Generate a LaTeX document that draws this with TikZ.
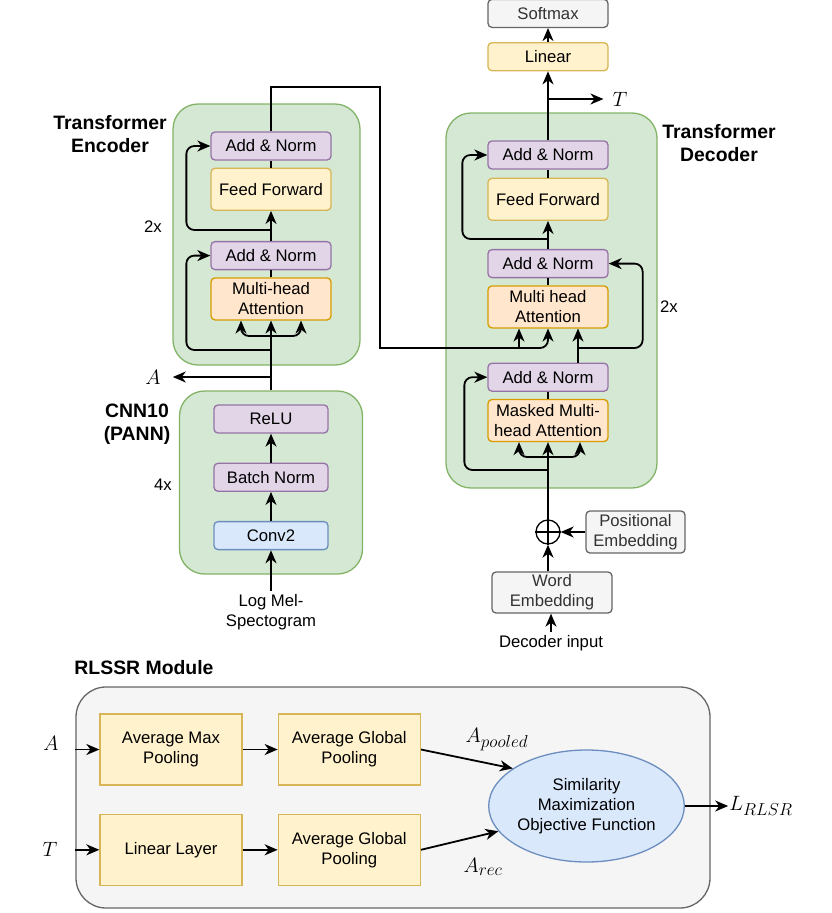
\documentclass[tikz,border=0pt]{standalone}
\usepackage{fontspec}
\setmainfont{Liberation Sans}
\DeclareMathSizes{20}{20}{17}{14}
\usetikzlibrary{positioning,calc,arrows.meta,shapes}

\definecolor{normfill}{HTML}{E1D5E7}
\definecolor{normline}{HTML}{9673A6}
\definecolor{fffill}{HTML}{FFF2CC}
\definecolor{ffline}{HTML}{D6B656}
\definecolor{attfill}{HTML}{FFE6CC}
\definecolor{attline}{HTML}{D79B00}
\definecolor{greenfill}{HTML}{D5E8D4}
\definecolor{greenline}{HTML}{82B366}
\definecolor{convfill}{HTML}{DAE8FC}
\definecolor{convline}{HTML}{6C8EBF}
\definecolor{grayfill}{HTML}{F5F5F5}
\definecolor{grayline}{HTML}{666666}
\definecolor{graytext}{HTML}{333333}

\begin{document}
\begin{tikzpicture}[x=1pt, y=-1pt]
    \tikzstyle{every node}=[font=\fontsize{16.7}{20}\selectfont]
    \tikzstyle{layer}=[rectangle,
                       rounded corners=4pt,
                       line width=1.3pt,
                       minimum width=120pt,
                       minimum height=28pt,
                       inner sep=0pt,
                       align=center]
    \tikzstyle{norm}=[layer, draw=normline, fill=normfill]
    \tikzstyle{ffwd}=[layer, draw=ffline, fill=fffill, minimum height=42pt]
    \tikzstyle{attn}=[layer, draw=attline, fill=attfill, minimum height=42pt]
    \tikzstyle{conv}=[layer, draw=convline, fill=convfill, minimum width=114pt]
    \tikzstyle{embed}=[layer, draw=grayline, fill=grayfill, text=graytext]
    \tikzstyle{block}=[rectangle, rounded corners=25pt, line width=1.3pt,
                       draw=greenline, fill=greenfill]
    \tikzstyle{pool}=[rectangle, line width=1.3pt, draw=ffline, fill=fffill,
                      minimum width=142pt, minimum height=71pt, align=center]
    \tikzstyle{title}=[font=\bfseries\fontsize{19.4}{23}\selectfont, align=center]
    \tikzstyle{mathlabel}=[font=\fontsize{20}{24}\selectfont, inner sep=1pt]

    \tikzset{edgestyle/.style={-{Stealth[length=13pt,width=11pt,inset=4pt]}, line width=1.8pt}}
    \tikzset{linestyle/.style={-, line width=1.8pt}}

    \useasboundingbox (0,0) rectangle (831,913);

    % containers
    \node[block, minimum width=187pt, minimum height=261pt] (encbox) at (266.5,234.5) {};
    \node[block, minimum width=183pt, minimum height=183pt] (cnnbox) at (271,482.5) {};
    \node[block, minimum width=211pt, minimum height=375pt] (decbox) at (551.5,300.5) {};
    \node[rectangle, rounded corners=30pt, line width=1.3pt, draw=grayline, fill=grayfill,
          minimum width=634pt, minimum height=221pt] (rlssr) at (393,797.5) {};

    % encoder
    \node[norm] (enc_an2)                      at (271,146) {Add \& Norm};
    \node[ffwd] (enc_ff)  [below = 7pt of enc_an2]  {Feed Forward};
    \node[norm] (enc_an1) [below = 30pt of enc_ff]  {Add \& Norm};
    \node[attn] (enc_mha) [below = 7pt of enc_an1]  {Multi-head\\Attention};
    \node[title] (enc_title) at (110,134) {Transformer\\Encoder};
    \node (enc_rep) at (153,227) {2x};
    \node[mathlabel] (alab) at (153,377) {$A$};

    % cnn
    \node[norm, minimum width=114pt] (relu)  at (271,419) {ReLU};
    \node[norm, minimum width=114pt] (bnorm) [below = 29pt of relu]  {Batch Norm};
    \node[conv]                      (conv)  [below = 29pt of bnorm] {Conv2};
    \node[align=center] (melin) at (271,612) {Log Mel-\\Spectogram};
    \node[title] (cnn_title) at (137,424) {CNN10\\(PANN)};
    \node (cnn_rep) at (163,485) {4x};

    % decoder
    \node[norm] (dec_an3)                       at (548,155) {Add \& Norm};
    \node[ffwd] (dec_ff)   [below = 8pt of dec_an3]  {Feed Forward};
    \node[norm] (dec_an2)  [below = 28pt of dec_ff]  {Add \& Norm};
    \node[attn] (dec_mha)  [below = 7pt of dec_an2]  {Multi head\\Attention};
    \node[norm] (dec_an1)  [below = 34pt of dec_mha] {Add \& Norm};
    \node[attn] (dec_mmha) [below = 7pt of dec_an1]  {Masked Multi-\\head Attention};
    \node[ffwd, minimum height=28pt] (dec_lin) [above = 69pt of dec_an3] {Linear};
    \node[embed] (dec_soft) [above = 14pt of dec_lin] {Softmax};
    \node[title] (dec_title) at (719,143) {Transformer\\Decoder};
    \node (dec_rep) at (669,307) {2x};
    \node[mathlabel] (tlab) at (620,99) {$T$};
    \node[circle, draw, line width=1.3pt, minimum size=24pt, inner sep=0pt] (plus) at (548,532) {};
    \node[embed, minimum width=99pt, minimum height=42pt] (posemb) at (635.5,532) {Positional\\Embedding};
    \node[embed, minimum height=41pt] (wordemb) at (552,592.5) {Word\\Embedding};
    \node (decin) at (551,643) {Decoder input};

    % rlssr module
    \node[title] (rlssr_title) at (144,668) {RLSSR Module};
    \node[pool] (amp)                            at (171,749.5) {Average Max\\Pooling};
    \node[pool] (agp1)     [right = 35pt of amp]      {Average Global\\Pooling};
    \node[pool] (linlayer) [below = 28pt of amp]      {Linear Layer};
    \node[pool] (agp2)     [right = 35pt of linlayer] {Average Global\\Pooling};
    \node[ellipse, line width=1.3pt, draw=convline, fill=convfill, align=center, inner sep=0pt,
          minimum width=169pt, minimum height=112pt] (sim) at (586.5,806)
          {Similarity\\Maximization\\Objective Function};
    \node[mathlabel] (alab2) at (51,743) {$A$};
    \node[mathlabel] (tlab2) at (50,849) {$T$};
    \node[mathlabel] (apool) at (497,740) {$A_{pooled}$};
    \node[mathlabel] (arec)  at (483,867) {$A_{rec}$};
    \node[mathlabel] (llab)  at (761,806) {$L_{RLSR}$};

    \coordinate (enc_fork)  at (271,336);
    \coordinate (enc_skip1) at (271,350);
    \coordinate (enc_skip2) at (271,230);
    \coordinate (enc_out)   at (380,87);
    \coordinate (dec_mem)   at (519,348);
    \coordinate (dec_skip2) at (548,239);
    \coordinate (dec_fork)  at (548,457);
    \coordinate (dec_skip1) at (548,470);

    \path (conv)     edge [edgestyle] (bnorm)
          (bnorm)    edge [edgestyle] (relu)
          (melin)    edge [edgestyle] (conv)
          (enc_mha)  edge [linestyle] (enc_an1)
          (enc_an1)  edge [edgestyle] (enc_ff)
          (enc_ff)   edge [linestyle] (enc_an2)
          (dec_mmha) edge [linestyle] (dec_an1)
          (dec_mha)  edge [linestyle] (dec_an2)
          (dec_an2)  edge [edgestyle] (dec_ff)
          (dec_ff)   edge [linestyle] (dec_an3)
          (dec_an3)  edge [edgestyle] (dec_lin)
          (dec_lin)  edge [edgestyle] (dec_soft)
          (plus)     edge [edgestyle] (dec_mmha)
          (posemb)   edge [edgestyle] (plus)
          (amp)      edge [edgestyle] (agp1)
          (linlayer) edge [edgestyle] (agp2)
          (agp1.east) edge [edgestyle] (sim.153)
          (agp2.east) edge [edgestyle] (sim.196)
          (sim)      edge [edgestyle] (llab);

    \draw[line width=1.3pt] (plus.north) -- (plus.south) (plus.west) -- (plus.east);

    % encoder wiring
    \draw[edgestyle] (cnnbox.north) -- (cnnbox.north |- enc_mha.south);
    \draw[edgestyle] (cnnbox.north |- alab) -- ([xshift=11pt]alab.east);
    \draw[edgestyle, rounded corners=8pt] (enc_fork) -| ([xshift=-30pt]enc_mha.south);
    \draw[edgestyle, rounded corners=8pt] (enc_fork) -| ([xshift=30pt]enc_mha.south);
    \draw[edgestyle, rounded corners=8pt] (enc_skip1) -| ([xshift=-24pt]enc_an1.west) -- (enc_an1.west);
    \draw[edgestyle, rounded corners=8pt] (enc_skip2) -| ([xshift=-24pt]enc_an2.west) -- (enc_an2.west);
    \draw[edgestyle] (enc_an2.north) |- (enc_out) |- (dec_mem) -- ([xshift=-29pt]dec_mha.south);
    \draw[edgestyle, rounded corners=8pt] (dec_mem) -| (dec_mha.south);

    % decoder wiring
    \draw[edgestyle] (dec_an3.north |- tlab) -- ([xshift=-8pt]tlab.west);
    \draw[edgestyle] ([xshift=30pt]dec_an1.north) -- ([xshift=30pt]dec_mha.south);
    \draw[edgestyle, rounded corners=8pt] ([xshift=30pt]dec_mha.south |- dec_mem) -| ([xshift=34pt]dec_an2.east) -- (dec_an2.east);
    \draw[edgestyle, rounded corners=8pt] (dec_skip2) -| ([xshift=-25pt]dec_an3.west) -- (dec_an3.west);
    \draw[edgestyle, rounded corners=8pt] (dec_fork) -| ([xshift=-29pt]dec_mmha.south);
    \draw[edgestyle, rounded corners=8pt] (dec_fork) -| ([xshift=32pt]dec_mmha.south);
    \draw[edgestyle, rounded corners=8pt] (dec_skip1) -| ([xshift=-23pt]dec_an1.west) -- (dec_an1.west);
    \draw[edgestyle] (plus |- wordemb.north) -- (plus);
    \draw[edgestyle] (decin) -- (decin |- wordemb.south);

    % rlssr inputs
    \draw[edgestyle] (rlssr.west |- amp) -- (amp);
    \draw[edgestyle] (rlssr.west |- linlayer) -- (linlayer);
\end{tikzpicture}
\end{document}
